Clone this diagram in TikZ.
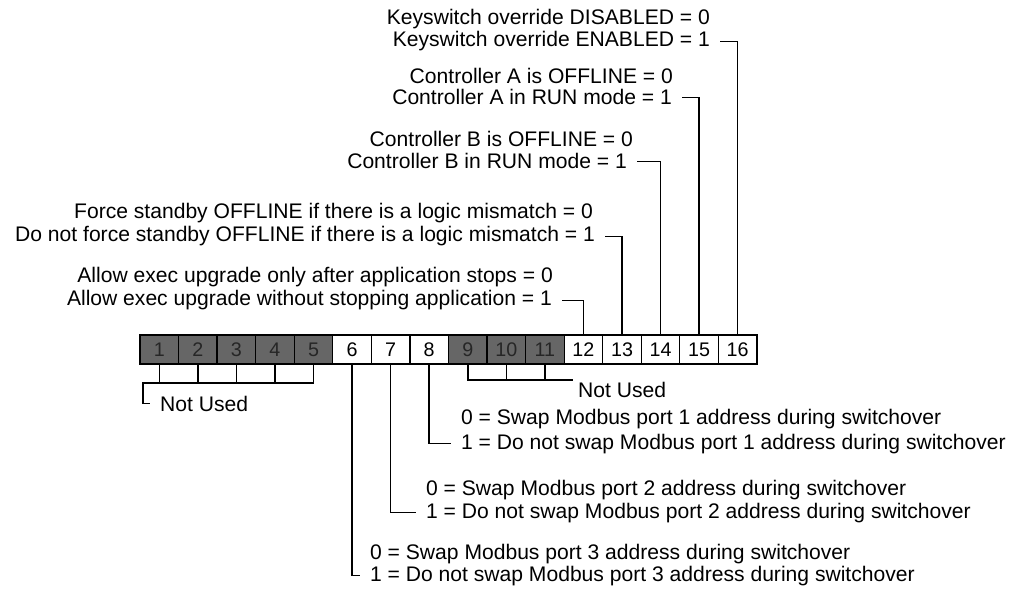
\documentclass[tikz,border=0pt]{standalone}
\usepackage{fontspec}
\setmainfont{Liberation Sans}
\usetikzlibrary{positioning}
\newcommand{\lblfont}{\fontsize{15pt}{18pt}\selectfont}
\newcommand{\bitfont}{\fontsize{14pt}{16pt}\selectfont}

\begin{document}
\begin{tikzpicture}[
  x=0.025cm, y=-0.025cm,
  bit/.style={draw,line width=0.9pt,fill=white,minimum width=0.964cm,minimum height=0.725cm,inner sep=0pt,outer sep=0pt,font=\bitfont},
  spare/.style={bit,fill=black!60,text=black!85},
  lbl/.style={inner xsep=7pt,inner ysep=1pt,font=\lblfont},
  tolbl/.style={lbl,anchor=base east},
  fromlbl/.style={lbl,anchor=base west},
  leader/.style={line width=1.1pt}
]
\useasboundingbox (0,0) rectangle (1025,589);
\foreach \i/\s in {1/spare,2/spare,3/spare,4/spare,5/spare,6/bit,7/bit,8/bit,9/spare,10/spare,11/spare,12/bit,13/bit,14/bit,15/bit,16/bit}
  \node[\s] (b\i) at ({140+(\i-0.5)*38.56},349.5) {\i};

\node[tolbl] (ks0) at (720,25) {Keyswitch override DISABLED = 0};
\node[tolbl] (ks1) at (720,47) {Keyswitch override ENABLED = 1};
\node[tolbl] (ca0) at (683,84) {Controller A is OFFLINE = 0};
\node[tolbl] (ca1) at (682,105) {Controller A in RUN mode = 1};
\node[tolbl] (cb0) at (643,147) {Controller B is OFFLINE = 0};
\node[tolbl] (cb1) at (637,169) {Controller B in RUN mode = 1};
\node[tolbl] (fs0) at (603,219) {Force standby OFFLINE if there is a logic mismatch = 0};
\node[tolbl] (fs1) at (605,242) {Do not force standby OFFLINE if there is a logic mismatch = 1};
\node[tolbl] (up0) at (563,283) {Allow exec upgrade only after application stops = 0};
\node[tolbl] (up1) at (562,306) {Allow exec upgrade without stopping application = 1};

\node[fromlbl] (p1a) at (451,425) {0 = Swap Modbus port 1 address during switchover};
\node[fromlbl] (p1b) at (451,449) {1 = Do not swap Modbus port 1 address during switchover};
\node[fromlbl] (p2a) at (416,495) {0 = Swap Modbus port 2 address during switchover};
\node[fromlbl] (p2b) at (416,518) {1 = Do not swap Modbus port 2 address during switchover};
\node[fromlbl] (p3a) at (360,559) {0 = Swap Modbus port 3 address during switchover};
\node[fromlbl] (p3b) at (360,581) {1 = Do not swap Modbus port 3 address during switchover};

\coordinate (barA) at (143,383);
\node[fromlbl] (nuA) at (150,411) {Not Used};
\coordinate (barB) at (573,380);
\node[fromlbl] (nuB) at (568,397) {Not Used};

\draw[leader] (ks1.east) -| (b16.north);
\draw[leader] (ca1.east) -| (b15.north);
\draw[leader] (cb1.east) -| (b14.north);
\draw[leader] (fs1.east) -| (b13.north);
\draw[leader] (up1.east) -| (b12.north);

\draw[leader] (b8.south) |- (p1b.west);
\draw[leader] (b7.south) |- (p2b.west);
\draw[leader] (b6.south) |- (p3b.west);

\draw[leader] (b5.south) |- (barA) |- (nuA.west);
\foreach \i in {1,...,4} \draw[leader] (b\i.south) -- (b\i.south |- barA);
\draw[leader] (b9.south) |- (barB);
\foreach \i in {10,11} \draw[leader] (b\i.south) -- (b\i.south |- barB);
\end{tikzpicture}
\end{document}
